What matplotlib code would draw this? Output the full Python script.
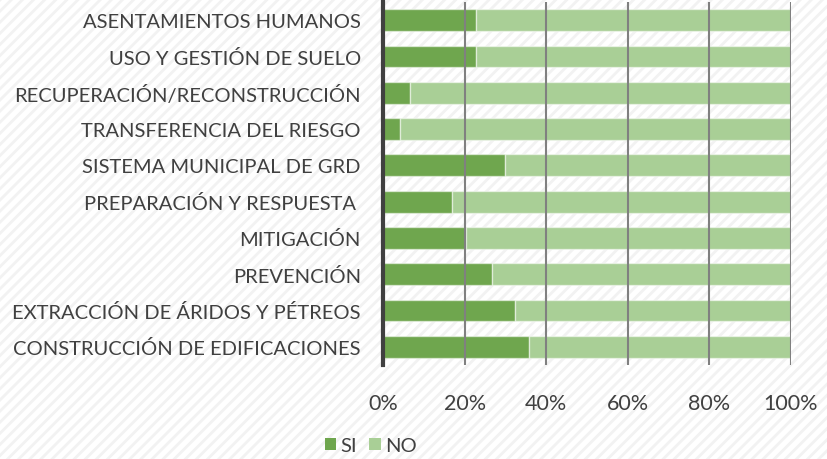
import matplotlib
matplotlib.use("Agg")
import matplotlib.pyplot as plt
from matplotlib.patches import Rectangle, Patch
from matplotlib.ticker import FuncFormatter

categories = [
    "ASENTAMIENTOS HUMANOS",
    "USO Y GESTIÓN DE SUELO",
    "RECUPERACIÓN/RECONSTRUCCIÓN",
    "TRANSFERENCIA DEL RIESGO",
    "SISTEMA MUNICIPAL DE GRD",
    "PREPARACIÓN Y RESPUESTA ",
    "MITIGACIÓN",
    "PREVENCIÓN",
    "EXTRACCIÓN DE ÁRIDOS Y PÉTREOS",
    "CONSTRUCCIÓN DE EDIFICACIONES",
]
si_values = [22.8, 22.8, 6.7, 4.2, 30.0, 17.0, 20.3, 26.7, 32.4, 35.7]
no_values = [100 - v for v in si_values]
x_ticks = [0, 20, 40, 60, 80, 100]
series_names = ["SI", "NO"]

plt.rcParams['font.family'] = ['Lato', 'DejaVu Sans']
plt.rcParams['hatch.linewidth'] = 2.0
text_color = '#404040'
si_color = '#6fa64e'
no_color = '#a9cf96'

fig = plt.figure(figsize=(8.28, 4.6), dpi=100)
fig.patch.set_facecolor('white')
# background diagonal pattern
bg = Rectangle((0, 0), 1, 1, transform=fig.transFigure, facecolor='none',
               edgecolor='#f2f2f2', hatch='///', linewidth=0, zorder=-10)
fig.patches.append(bg)

ax = fig.add_axes([383/828, 1 - 366/460, (791-383)/828, (366-3)/460])
ax.patch.set_alpha(0)

n = len(categories)
ypos = list(range(n - 1, -1, -1))
h = 0.6
ax.barh(ypos, si_values, height=h, color=si_color, edgecolor=(1, 1, 1, 0.5),
        linewidth=1, zorder=2)
ax.barh(ypos, no_values, left=si_values, height=h, color=no_color,
        edgecolor=(1, 1, 1, 0.5), linewidth=1, zorder=2)

ax.set_xlim(0, 100)
ax.set_ylim(-0.5, n - 0.5)
ax.set_xticks(x_ticks)
ax.xaxis.set_major_formatter(FuncFormatter(lambda v, p: f"{int(v)}%"))
ax.set_yticks(ypos)
ax.set_yticklabels(categories)
ax.grid(axis='x', color=(0.5, 0.5, 0.5, 0.22), linewidth=1.5, zorder=3)
ax.set_axisbelow(False)
for s in ['top', 'right', 'bottom']:
    ax.spines[s].set_visible(False)
ax.spines['left'].set_color('#404040')
ax.spines['left'].set_linewidth(3)
ax.spines['left'].set_zorder(5)
ax.tick_params(axis='both', length=0, colors=text_color)
ax.tick_params(axis='y', pad=16, labelsize=14.5)
ax.tick_params(axis='x', pad=20, labelsize=15.5)

handles = [Patch(facecolor=si_color, edgecolor='none'),
           Patch(facecolor=no_color, edgecolor='none')]
leg = fig.legend(handles, series_names, loc='center',
                 bbox_to_anchor=(371/828, 1 - 447/460), ncol=2,
                 frameon=False, fontsize=14.5, handlelength=0.55, handleheight=0.55,
                 handletextpad=0.25, columnspacing=0.6, labelcolor=text_color)

fig.savefig('out.png', dpi=100, facecolor=fig.get_facecolor())
